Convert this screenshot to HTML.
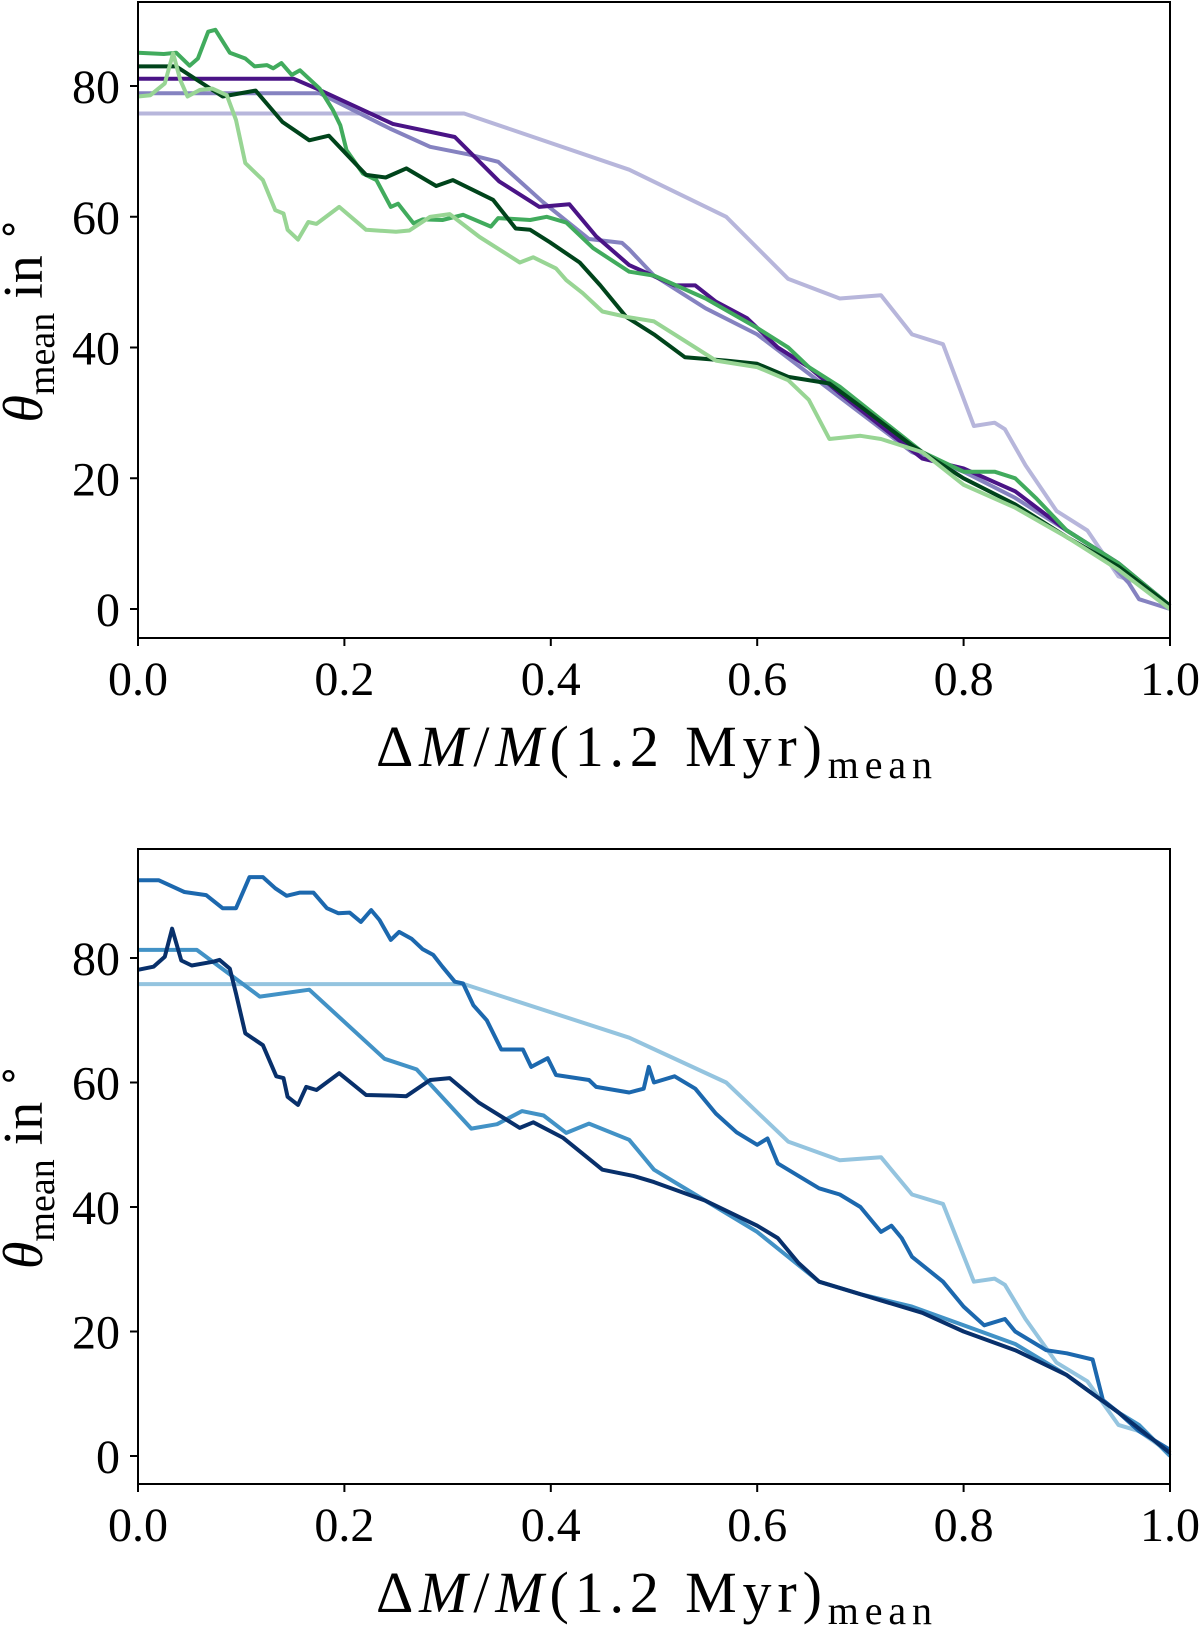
<!DOCTYPE html>
<html><head><meta charset="utf-8"><style>
html,body{margin:0;padding:0;background:#fff;}
svg{display:block;}
text{font-family:"Liberation Serif",serif;fill:#000;}
</style></head><body>
<svg id="fig" width="1200" height="1628" viewBox="0 0 1200 1628" xmlns="http://www.w3.org/2000/svg"></svg>
<script>
// ---- data (x = ΔM/M fraction, y = θ mean in degrees) ----
const xTicks = [0.0, 0.2, 0.4, 0.6, 0.8, 1.0];
const xTickLabels = ["0.0","0.2","0.4","0.6","0.8","1.0"];
const yTicks = [0, 20, 40, 60, 80];
const yTickLabels = ["0","20","40","60","80"];

const topLavender = [[0,75.8],[0.316,75.8],[0.476,67.2],[0.57,60],[0.63,50.5],[0.68,47.5],[0.72,48],[0.75,42],[0.78,40.5],[0.81,28],[0.83,28.5],[0.84,27.5],[0.86,22],[0.89,15],[0.92,12],[0.95,5],[0.97,4],[1,0.5]];
const topMedPurple = [[0,78.9],[0.176,78.9],[0.244,73.5],[0.283,70.7],[0.321,69.5],[0.349,68.4],[0.392,62.3],[0.437,56.6],[0.469,56],[0.476,55],[0.5,51],[0.55,46],[0.6,42],[0.65,36],[0.7,30],[0.75,24],[0.8,21],[0.85,17],[0.9,12],[0.93,9],[0.96,4],[0.97,1.5],[1,0]];
const topDarkPurple = [[0,81.1],[0.151,81.1],[0.173,79.6],[0.247,74.2],[0.307,72.2],[0.35,65.4],[0.389,61.5],[0.418,61.9],[0.444,57],[0.476,52.6],[0.52,49.5],[0.54,49.5],[0.56,47],[0.59,44.5],[0.62,40],[0.65,37],[0.68,33],[0.72,28],[0.76,23],[0.8,21.5],[0.85,18],[0.9,12],[0.95,7],[1,0.5]];
const topMedGreen = [[0,85.1],[0.025,84.9],[0.037,85.1],[0.05,83.1],[0.058,84.2],[0.068,88.3],[0.075,88.6],[0.089,85.1],[0.104,84.2],[0.113,83],[0.125,83.2],[0.131,82.7],[0.139,83.5],[0.149,81.7],[0.157,82.4],[0.176,79.6],[0.189,76.3],[0.196,74],[0.202,70.2],[0.218,66.6],[0.231,65.6],[0.245,61.5],[0.252,62],[0.267,59],[0.276,59.6],[0.295,59.5],[0.315,60.3],[0.342,58.5],[0.349,59.8],[0.38,59.5],[0.396,60],[0.415,59.1],[0.441,55.2],[0.476,51.6],[0.5,51],[0.55,47.5],[0.6,43],[0.63,40],[0.65,37],[0.68,34],[0.72,29],[0.76,24],[0.8,21],[0.83,21],[0.85,20],[0.87,17],[0.9,12],[0.95,7],[1,0.5]];
const topDarkGreen = [[0,83],[0.037,83],[0.082,78.4],[0.114,79.3],[0.14,74.5],[0.166,71.7],[0.185,72.4],[0.221,66.4],[0.24,66],[0.26,67.4],[0.289,64.7],[0.305,65.6],[0.344,62.6],[0.366,58.2],[0.38,58],[0.399,56.1],[0.428,53],[0.448,49.5],[0.473,44.7],[0.5,42],[0.53,38.5],[0.57,38],[0.6,37.5],[0.63,35.5],[0.67,34.5],[0.7,31],[0.75,25],[0.8,20],[0.85,16],[0.9,11],[0.95,6.5],[1,0.5]];
const topLightGreen = [[0,78.4],[0.012,78.6],[0.026,80.4],[0.034,85],[0.041,80.9],[0.048,78.4],[0.06,79.4],[0.072,79.6],[0.086,78.6],[0.095,74.8],[0.104,68.2],[0.121,65.6],[0.133,61],[0.141,60.5],[0.145,58],[0.155,56.5],[0.165,59.2],[0.173,58.9],[0.195,61.5],[0.221,58],[0.25,57.7],[0.263,57.9],[0.283,60],[0.302,60.4],[0.331,56.9],[0.37,53],[0.383,53.8],[0.405,52.1],[0.415,50.3],[0.431,48.3],[0.45,45.5],[0.473,44.7],[0.5,44],[0.53,41],[0.56,38],[0.6,37],[0.63,35],[0.65,32],[0.67,26],[0.7,26.5],[0.72,26],[0.76,24],[0.8,19],[0.85,15.5],[0.9,11],[0.95,6],[1,0]];

const botLightBlue = [[0,75.8],[0.316,75.8],[0.476,67.2],[0.57,60],[0.63,50.5],[0.68,47.5],[0.72,48],[0.75,42],[0.78,40.5],[0.81,28],[0.83,28.5],[0.84,27.5],[0.86,22],[0.89,15],[0.92,12],[0.95,5],[0.97,4],[1,0.5]];
const botMedBlue = [[0,81.3],[0.057,81.3],[0.118,73.8],[0.166,74.9],[0.239,63.8],[0.27,62.1],[0.323,52.6],[0.348,53.3],[0.372,55.4],[0.393,54.7],[0.415,51.9],[0.437,53.4],[0.476,50.8],[0.5,46],[0.52,44],[0.56,40],[0.6,36],[0.63,32],[0.66,28],[0.7,26],[0.75,24],[0.8,21],[0.85,18],[0.9,13],[0.95,7],[0.97,5],[1,0]];
const botBlue = [[0,92.5],[0.02,92.5],[0.045,90.6],[0.066,90.1],[0.082,88],[0.095,88],[0.108,93],[0.121,93],[0.133,91.2],[0.144,90],[0.157,90.5],[0.17,90.5],[0.183,88],[0.194,87.2],[0.205,87.3],[0.216,85.8],[0.226,87.7],[0.234,86.1],[0.245,82.9],[0.253,84.2],[0.265,83.1],[0.276,81.4],[0.286,80.5],[0.295,78.6],[0.307,76.2],[0.315,75.9],[0.325,72.4],[0.338,70],[0.352,65.3],[0.373,65.3],[0.381,62.5],[0.397,63.9],[0.405,61.2],[0.437,60.4],[0.444,59.3],[0.476,58.4],[0.49,59],[0.495,62.5],[0.5,60],[0.52,61],[0.54,59],[0.56,55],[0.58,52],[0.6,50],[0.61,51],[0.62,47],[0.64,45],[0.66,43],[0.68,42],[0.7,40],[0.72,36],[0.73,37],[0.74,35],[0.75,32],[0.78,28],[0.8,24],[0.82,21],[0.84,22],[0.85,20],[0.88,17],[0.9,16.5],[0.925,15.5],[0.935,9],[0.95,7],[0.97,4],[1,1]];
const botNavy = [[0,78.1],[0.015,78.6],[0.026,80.2],[0.033,84.7],[0.042,79.6],[0.052,78.8],[0.073,79.4],[0.079,79.7],[0.089,78.3],[0.095,74.3],[0.104,67.9],[0.121,66],[0.134,61],[0.141,60.7],[0.145,57.7],[0.155,56.4],[0.163,59.3],[0.173,58.8],[0.195,61.5],[0.221,58],[0.247,57.9],[0.26,57.8],[0.283,60.4],[0.302,60.7],[0.33,56.8],[0.37,52.7],[0.383,53.6],[0.412,51.1],[0.45,46],[0.48,45],[0.5,44],[0.55,41],[0.6,37],[0.62,35],[0.64,31],[0.66,28],[0.7,26],[0.72,25],[0.76,23],[0.8,20],[0.85,17],[0.9,13],[0.95,7],[1,0.5]];

const NS = "http://www.w3.org/2000/svg";
const svg = document.getElementById('fig');
function mk(tag, attrs, parent){const e=document.createElementNS(NS,tag);for(const k in attrs)e.setAttribute(k,attrs[k]);(parent||svg).appendChild(e);return e;}

function drawPanel(p){
  const g = mk('g',{});
  
  
  const xs = v => p.x0 + v*(p.x1-p.x0);
  const ys = v => p.y0 - v*p.ppu;
  p.series.forEach(s=>{
    const d = s.data.map((pt,i)=>(i?'L':'M')+xs(pt[0]).toFixed(1)+' '+ys(pt[1]).toFixed(1)).join(' ');
    const path = mk('path',{d:d,fill:'none',stroke:s.color,'stroke-width':4,'stroke-linejoin':'round','stroke-linecap':'butt'},g);
    
    
  });
  const fr = mk('rect',{x:p.x0,y:p.top,width:p.x1-p.x0,height:p.bot-p.top,fill:'none',stroke:'#000','stroke-width':2},g);
  
  
  xTicks.forEach((t,i)=>{
    const x=xs(t);
    mk('line',{x1:x,x2:x,y1:p.bot,y2:p.bot+8,stroke:'#000','stroke-width':2},g);
    const tx=mk('text',{x:x,y:p.bot+57,'font-size':48,'text-anchor':'middle'},g);
    tx.textContent=xTickLabels[i];
    
    
  });
  yTicks.forEach((t,i)=>{
    const y=ys(t);
    mk('line',{x1:p.x0-8,x2:p.x0,y1:y,y2:y,stroke:'#000','stroke-width':2},g);
    const ty=mk('text',{x:p.x0-18,y:y+17,'font-size':48,'text-anchor':'end'},g);
    ty.textContent=yTickLabels[i];
    
    
  });
  const xt=mk('text',{x:376,y:p.bot+128,'font-size':58,textLength:556,lengthAdjust:'spacing'},g);
  
  
  xt.innerHTML='Δ<tspan font-style="italic">M</tspan>/<tspan font-style="italic">M</tspan>(1.2 Myr)<tspan font-size="40" dy="12">mean</tspan>';
  const yt=mk('text',{transform:'translate('+(p.x0-96)+','+((p.top+p.bot)/2)+') rotate(-90)','font-size':56,'text-anchor':'middle'},g);
  
  
  yt.innerHTML='<tspan font-style="italic">θ</tspan><tspan font-size="38" dy="12">mean</tspan><tspan dy="-12"> in </tspan><tspan font-size="38" dy="-22">∘</tspan>';
}

drawPanel({name:'top-panel',x0:138,x1:1170,top:2,bot:638,y0:609,ppu:6.5375,series:[
  {name:'lavender-line',data:topLavender,color:'#b7b6db'},
  {name:'medium-purple-line',data:topMedPurple,color:'#8582c0'},
  {name:'dark-purple-line',data:topDarkPurple,color:'#4a1486'},
  {name:'medium-green-line',data:topMedGreen,color:'#41ab5d'},
  {name:'dark-green-line',data:topDarkGreen,color:'#00441b'},
  {name:'light-green-line',data:topLightGreen,color:'#98d594'}
]});
drawPanel({name:'bottom-panel',x0:138,x1:1170,top:849,bot:1484,y0:1456,ppu:6.225,series:[
  {name:'light-blue-line',data:botLightBlue,color:'#94c4df'},
  {name:'medium-blue-line',data:botMedBlue,color:'#4292c6'},
  {name:'blue-line',data:botBlue,color:'#1c68ae'},
  {name:'navy-line',data:botNavy,color:'#08306b'}
]});
</script>
</body></html>
